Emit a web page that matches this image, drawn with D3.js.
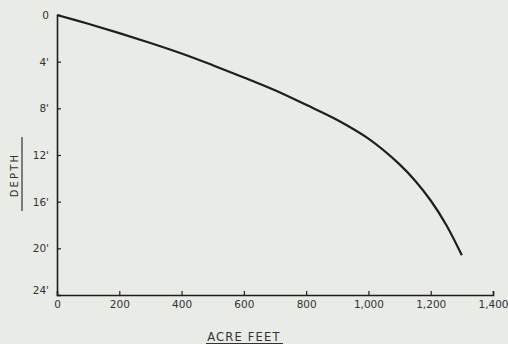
<!DOCTYPE html>
<html>
<head>
<meta charset="utf-8">
<script src="https://cdn.jsdelivr.net/npm/d3@7"></script>
<style>
  body { margin: 0; background: #e9ebe6; }
  svg { display: block; }
</style>
</head>
<body>
<script>
// capacity curve
const acreFeet = [0, 100, 200, 300, 400, 500, 600, 700, 800, 900, 1000, 1100, 1150, 1200, 1250, 1300];
const depthFt  = [0, 0.75, 1.55, 2.4, 3.3, 4.3, 5.35, 6.45, 7.7, 9.0, 10.6, 12.8, 14.2, 15.9, 18.0, 20.6];
const xTicks = [0, 200, 400, 600, 800, 1000, 1200, 1400];
const xTickLabels = ["0", "200", "400", "600", "800", "1,000", "1,200", "1,400"];
const yTicks = [0, 4, 8, 12, 16, 20, 24];
const yTickLabels = ["0", "4'", "8'", "12'", "16'", "20'", "24'"];

const width = 508, height = 344;
const font = "'DejaVu Sans', sans-serif";
const ink = "#1e1f1d";

const svg = d3.select("body").append("svg")
    .attr("width", width)
    .attr("height", height)
    .attr("viewBox", [0, 0, width, height]);

svg.append("rect").attr("width", width).attr("height", height).attr("fill", "#e9ebe6");

const x = d3.scaleLinear().domain([0, 1400]).range([57, 493]);
const y = d3.scaleLinear().domain([0, 24]).range([15, 295]);

// axes
const xAxis = svg.append("g")
    .attr("transform", `translate(0,${y(24)})`)
    .call(d3.axisBottom(x).tickValues(xTicks).tickSize(-4).tickPadding(6)
        .tickFormat((d, i) => xTickLabels[i]));
xAxis.select(".domain").attr("stroke", ink).attr("stroke-width", 1.6);
xAxis.selectAll(".tick line").attr("stroke", ink).attr("stroke-width", 1.2);
xAxis.selectAll(".tick text").attr("font-family", font).attr("font-size", 10.5).attr("fill", "#333");
xAxis.selectAll(".tick").filter(d => d === 0).select("line").remove();

const yAxis = svg.append("g")
    .attr("transform", `translate(${x(0)},0)`)
    .call(d3.axisLeft(y).tickValues(yTicks).tickSize(-4).tickPadding(8)
        .tickFormat((d, i) => yTickLabels[i]));
yAxis.select(".domain").attr("stroke", ink).attr("stroke-width", 1.6);
yAxis.selectAll(".tick line").attr("stroke", ink).attr("stroke-width", 1.2);
yAxis.selectAll(".tick text").attr("font-family", font).attr("font-size", 10.5).attr("fill", "#333");
yAxis.selectAll(".tick").filter(d => d === 0 || d === 24).select("line").remove();
yAxis.selectAll(".tick").filter(d => d === 24).select("text").attr("dy", "-0.1em");

// curve
const line = d3.line()
    .x((d, i) => x(acreFeet[i]))
    .y(d => y(d))
    .curve(d3.curveCatmullRom.alpha(0.5));

svg.append("path")
    .datum(depthFt)
    .attr("d", line)
    .attr("fill", "none")
    .attr("stroke", ink)
    .attr("stroke-width", 2.2);

// axis titles
svg.append("text")
    .attr("transform", "translate(18,175) rotate(-90)")
    .attr("text-anchor", "middle")
    .attr("font-family", font)
    .attr("font-size", 10)
    .attr("letter-spacing", 2.2)
    .attr("fill", "#333")
    .text("DEPTH");
svg.append("line")
    .attr("x1", 22).attr("x2", 22).attr("y1", 137).attr("y2", 211)
    .attr("stroke", "#333").attr("stroke-width", 1.2);

svg.append("text")
    .attr("x", 244).attr("y", 341)
    .attr("text-anchor", "middle")
    .attr("font-family", font)
    .attr("font-size", 11.5)
    .attr("letter-spacing", 1.2)
    .attr("fill", "#333")
    .text("ACRE FEET");
svg.append("line")
    .attr("x1", 206).attr("x2", 283).attr("y1", 343.5).attr("y2", 343.5)
    .attr("stroke", "#333").attr("stroke-width", 1);
</script>
</body>
</html>
